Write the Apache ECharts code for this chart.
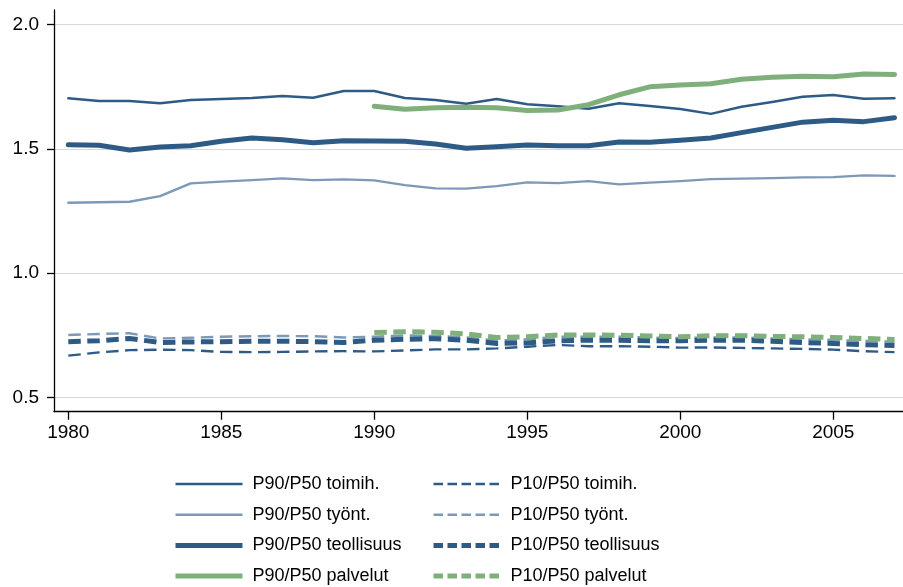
<!DOCTYPE html>
<html>
<head>
<meta charset="utf-8">
<script src="https://cdn.jsdelivr.net/npm/echarts@6/dist/echarts.min.js"></script>
<style>
html,body{margin:0;padding:0;background:#fff;}
#chart{width:903px;height:587px;}
</style>
</head>
<body>
<div id="chart"></div>
<script>
const years = [1980,1981,1982,1983,1984,1985,1986,1987,1988,1989,1990,1991,1992,1993,1994,1995,1996,1997,1998,1999,2000,2001,2002,2003,2004,2005,2006,2007];

const p90Toimih = [1.703,1.692,1.692,1.683,1.696,1.700,1.704,1.712,1.705,1.732,1.732,1.704,1.696,1.681,1.700,1.679,1.671,1.661,1.683,1.672,1.660,1.640,1.669,1.688,1.709,1.716,1.701,1.703];
const p90Tyont = [1.283,1.285,1.287,1.310,1.361,1.368,1.374,1.381,1.374,1.377,1.373,1.354,1.341,1.340,1.350,1.365,1.362,1.370,1.357,1.364,1.370,1.378,1.380,1.382,1.385,1.386,1.393,1.391];
const p90Teoll = [1.516,1.514,1.495,1.507,1.512,1.530,1.543,1.536,1.524,1.532,1.531,1.530,1.519,1.502,1.508,1.515,1.512,1.512,1.527,1.526,1.534,1.543,1.565,1.586,1.607,1.615,1.609,1.625];
const p90Palv = [null,null,null,null,null,null,null,null,null,null,1.671,1.659,1.665,1.667,1.665,1.654,1.656,1.677,1.717,1.749,1.756,1.761,1.779,1.787,1.791,1.789,1.800,1.798];

const p10Toimih = [0.669,0.682,0.691,0.693,0.691,0.684,0.683,0.684,0.686,0.687,0.686,0.690,0.694,0.694,0.698,0.705,0.712,0.707,0.707,0.705,0.701,0.702,0.700,0.698,0.696,0.693,0.687,0.683];
const p10Tyont = [0.752,0.756,0.759,0.738,0.741,0.745,0.747,0.748,0.747,0.742,0.745,0.750,0.748,0.742,0.730,0.735,0.745,0.745,0.745,0.742,0.740,0.742,0.742,0.738,0.735,0.732,0.728,0.725];
const p10Teoll = [0.725,0.729,0.738,0.722,0.724,0.725,0.727,0.727,0.725,0.722,0.731,0.735,0.737,0.731,0.718,0.720,0.729,0.731,0.731,0.729,0.729,0.731,0.731,0.727,0.722,0.718,0.713,0.710];
const p10Palv = [null,null,null,null,null,null,null,null,null,null,0.762,0.765,0.763,0.756,0.742,0.745,0.752,0.752,0.751,0.748,0.745,0.749,0.749,0.746,0.745,0.742,0.738,0.734];

const xTicks = [1980,1985,1990,1995,2000,2005];
const yTicks = [0.5,1.0,1.5,2.0];

const names = {
  p90Toimih: 'P90/P50 toimih.',
  p90Tyont: 'P90/P50 työnt.',
  p90Teoll: 'P90/P50 teollisuus',
  p90Palv: 'P90/P50 palvelut',
  p10Toimih: 'P10/P50 toimih.',
  p10Tyont: 'P10/P50 työnt.',
  p10Teoll: 'P10/P50 teollisuus',
  p10Palv: 'P10/P50 palvelut'
};

const DARK = '#2e5b86';
const LIGHT = '#7d99b7';
const GREEN = '#7fb07b';
const FONT = 'Liberation Sans, Arial, sans-serif';

function pairs(vals){ return years.map((y,i)=>[y, vals[i]]); }
function mk(name, vals, color, width, dashed){
  return {
    name: name, type: 'line', data: pairs(vals), symbol: 'none',
    connectNulls: false, z: 3,
    lineStyle: {color: color, width: width, type: dashed ? [12.5, 6.5] : 'solid', join: 'round', cap: dashed ? 'butt' : 'round'},
    itemStyle: {color: color},
    emphasis: {disabled: true}
  };
}

const series = [
  mk(names.p10Toimih, p10Toimih, DARK, 2.4, true),
  mk(names.p10Tyont, p10Tyont, LIGHT, 2.4, true),
  mk(names.p10Teoll, p10Teoll, DARK, 5, true),
  mk(names.p10Palv, p10Palv, GREEN, 5, true),
  mk(names.p90Tyont, p90Tyont, LIGHT, 2.4, false),
  mk(names.p90Toimih, p90Toimih, DARK, 2.4, false),
  mk(names.p90Teoll, p90Teoll, DARK, 5, false),
  mk(names.p90Palv, p90Palv, GREEN, 5, false)
];

function legItem(name, w, dashed){
  return {name: name,
    itemStyle: {opacity: 0, color: 'transparent', borderColor: 'transparent', borderWidth: 0},
    lineStyle: {width: w, type: dashed ? [9.5, 4.5] : 'solid', cap: 'butt'}};
}
const legendCommon = {
  orient: 'vertical', top: 475, height: 130, padding: 0,
  itemWidth: 67, itemHeight: 14, itemGap: 12.7,
  selectedMode: false,
  itemStyle: {opacity: 0, color: 'transparent', borderColor: 'transparent', borderWidth: 0},
  textStyle: {fontFamily: FONT, fontSize: 18, color: '#000', padding: [0,0,0,5]}
};

const option = {
  animation: false,
  backgroundColor: '#fff',
  grid: {left: 54, right: 0, top: 10, bottom: 175.3, containLabel: false},
  xAxis: {
    type: 'value', min: 1979.533, max: 2007.278,
    axisLine: {show: true, lineStyle: {color: '#000', width: 1.3}},
    axisTick: {show: true, length: 8, lineStyle: {color: '#000', width: 1.3}, customValues: xTicks},
    axisLabel: {customValues: xTicks, fontFamily: FONT, fontSize: 19, color: '#000', margin: 12, formatter: v => String(v)},
    splitLine: {show: false}
  },
  yAxis: {
    type: 'value', min: 0.4438, max: 2.0575,
    axisLine: {show: true, lineStyle: {color: '#000', width: 1.3}},
    axisTick: {show: true, length: 7, lineStyle: {color: '#000', width: 1.3}, customValues: yTicks},
    axisLabel: {customValues: yTicks, fontFamily: FONT, fontSize: 19, color: '#000', margin: 15, formatter: v => v.toFixed(1)},
    splitLine: {show: true, lineStyle: {color: '#d8d8d8', width: 1.2}}
  },
  legend: [
    Object.assign({}, legendCommon, {left: 173, data: [
      legItem(names.p90Toimih, 2.4, false), legItem(names.p90Tyont, 2.4, false),
      legItem(names.p90Teoll, 5, false), legItem(names.p90Palv, 5, false)]}),
    Object.assign({}, legendCommon, {left: 431, data: [
      legItem(names.p10Toimih, 2.4, true), legItem(names.p10Tyont, 2.4, true),
      legItem(names.p10Teoll, 5, true), legItem(names.p10Palv, 5, true)]})
  ],
  series: series
};

const chart = echarts.init(document.getElementById('chart'), null, {renderer: 'canvas'});
chart.setOption(option);
</script>
</body>
</html>
